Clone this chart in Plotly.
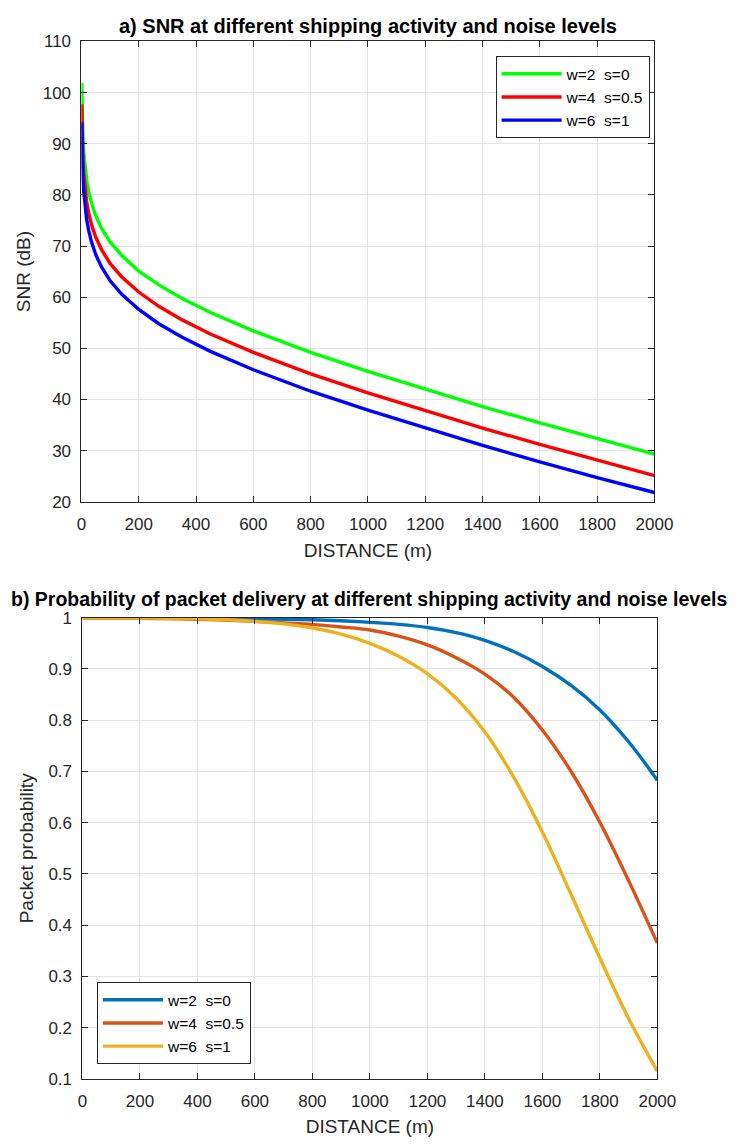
import plotly.graph_objects as go

# ---------------- data: panel a (SNR, dB) ----------------
dist_a = [1, 2, 3, 5, 8, 12, 18, 25, 35, 50, 70, 100, 140, 200, 270, 350, 450,
          600, 800, 1000, 1200, 1400, 1600, 1800, 2000]
snr_w2_s0 = [101.9, 97.4, 94.8, 91.4, 88.3, 85.6, 82.9, 80.7, 78.4, 75.9, 73.5, 70.8,
             68.2, 65.1, 62.4, 59.8, 57.0, 53.4, 49.2, 45.5, 42.0, 38.6, 35.4, 32.3, 29.3]
snr_w4_s05 = [97.7, 93.2, 90.6, 87.2, 84.1, 81.4, 78.7, 76.5, 74.2, 71.7, 69.3, 66.6,
              64.0, 61.0, 58.2, 55.6, 52.8, 49.2, 45.0, 41.3, 37.8, 34.4, 31.2, 28.1, 25.1]
snr_w6_s1 = [94.2, 89.8, 87.2, 83.8, 80.7, 78.0, 75.3, 73.1, 70.8, 68.3, 65.9, 63.2,
             60.6, 57.6, 54.8, 52.2, 49.4, 45.8, 41.6, 37.9, 34.4, 31.0, 27.8, 24.7, 21.8]

# ---------------- data: panel b (packet probability) ----------------
dist_b = [0, 200, 400, 600, 700, 800, 900, 1000, 1100, 1200, 1300, 1400, 1500,
          1600, 1700, 1800, 1900, 2000]
pkt_w2_s0 = [1.0, 1.0, 0.999, 0.998, 0.997, 0.996, 0.994, 0.991, 0.987, 0.981, 0.971,
             0.956, 0.934, 0.905, 0.868, 0.820, 0.758, 0.683]
pkt_w4_s05 = [1.0, 0.999, 0.997, 0.993, 0.990, 0.987, 0.982, 0.976, 0.964, 0.947, 0.922,
              0.890, 0.845, 0.781, 0.700, 0.601, 0.487, 0.365]
pkt_w6_s1 = [1.0, 0.9995, 0.998, 0.993, 0.988, 0.980, 0.968, 0.950, 0.925, 0.891, 0.843,
             0.777, 0.689, 0.582, 0.460, 0.336, 0.218, 0.115]

labels = ["w=2\u00a0 s=0", "w=4\u00a0 s=0.5", "w=6\u00a0 s=1"]
colors_a = ["#00FF00", "#FF0000", "#0000FF"]
colors_b = ["#0072BD", "#D95319", "#EDB120"]

W, H = 747, 1146
FONT = "Liberation Sans, Arial, Helvetica, sans-serif"
AX = "#262626"
GRID = "#e3e3e3"

fig = go.Figure()
for y, lab, c in zip([snr_w2_s0, snr_w4_s05, snr_w6_s1], labels, colors_a):
    fig.add_trace(go.Scatter(x=dist_a, y=y, mode="lines", name=lab,
                             line=dict(color=c, width=3.4), legend="legend",
                             xaxis="x", yaxis="y"))
for y, lab, c in zip([pkt_w2_s0, pkt_w4_s05, pkt_w6_s1], labels, colors_b):
    fig.add_trace(go.Scatter(x=dist_b, y=y, mode="lines", name=lab,
                             line=dict(color=c, width=3.4, shape="spline", smoothing=1.0),
                             legend="legend2", xaxis="x2", yaxis="y2"))


def px_x(p):
    return p / W


def px_y(p):
    return 1 - p / H


axis_common = dict(showgrid=True, gridcolor=GRID, gridwidth=1, zeroline=False,
                   showline=True, linecolor=AX, linewidth=1, mirror="ticks",
                   ticks="inside", ticklen=6, tickcolor=AX,
                   tickfont=dict(family=FONT, size=17, color=AX))

fig.update_layout(
    width=W, height=H,
    margin=dict(l=0, r=0, t=0, b=0),
    paper_bgcolor="white", plot_bgcolor="white",
    font=dict(family=FONT, color=AX),
    xaxis=dict(domain=[px_x(79), px_x(671)], range=[0, 2000], dtick=200,
               anchor="y", ticklabelstandoff=7,
               title=dict(text="DISTANCE (m)", font=dict(size=19, color=AX), standoff=10),
               **axis_common),
    yaxis=dict(domain=[px_y(501), px_y(33)], range=[20, 110], dtick=10,
               anchor="x", ticklabelstandoff=6,
               title=dict(text="SNR (dB)", font=dict(size=19, color=AX), standoff=7),
               **axis_common),
    xaxis2=dict(domain=[px_x(80), px_x(674)], range=[0, 2000], dtick=200,
                anchor="y2", ticklabelstandoff=7,
                title=dict(text="DISTANCE (m)", font=dict(size=19, color=AX), standoff=9),
                **axis_common),
    yaxis2=dict(domain=[px_y(1088), px_y(619)], range=[0.1, 1], dtick=0.1,
                anchor="x2", ticklabelstandoff=6,
                title=dict(text="Packet probability", font=dict(size=19, color=AX), standoff=9),
                **axis_common),
    legend=dict(x=px_x(666), y=px_y(48), xanchor="right", yanchor="top",
                bgcolor="white", bordercolor=AX, borderwidth=1,
                font=dict(family=FONT, size=15.5, color="black"),
                itemwidth=60, tracegroupgap=0),
    legend2=dict(x=px_x(95), y=px_y(1073), xanchor="left", yanchor="bottom",
                 bgcolor="white", bordercolor=AX, borderwidth=1,
                 font=dict(family=FONT, size=15.5, color="black"),
                 itemwidth=60, tracegroupgap=0),
    annotations=[
        dict(text="<b>a) SNR at different shipping activity and noise levels</b>",
             x=px_x(375), y=px_y(17), xref="paper", yref="paper",
             xanchor="center", yanchor="middle", showarrow=False,
             font=dict(family=FONT, size=20, color="black")),
        dict(text="<b>b) Probability of packet delivery at different shipping activity and noise levels</b>",
             x=px_x(376), y=px_y(600), xref="paper", yref="paper",
             xanchor="center", yanchor="middle", showarrow=False,
             font=dict(family=FONT, size=19.5, color="black")),
    ],
)

fig.write_html("out.html")
